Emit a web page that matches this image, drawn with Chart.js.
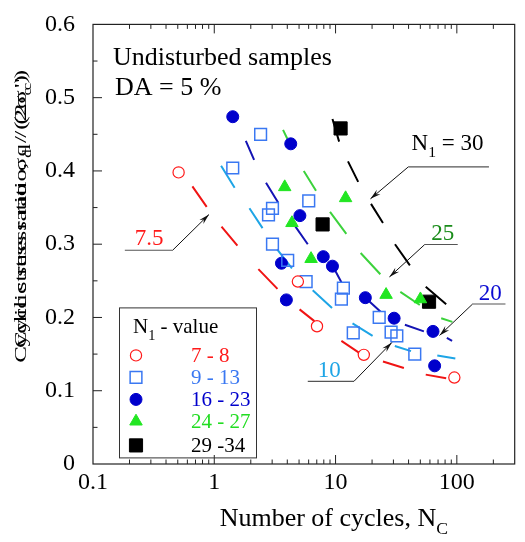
<!DOCTYPE html>
<html>
<head>
<meta charset="utf-8">
<script src="https://cdn.jsdelivr.net/npm/chart.js@4.4.0/dist/chart.umd.min.js"></script>
<style>
html,body{margin:0;padding:0;background:#fff;}
</style>
</head>
<body>
<canvas id="chart" width="525" height="542"></canvas>
<script>
// ===== Data: number of cycles to DA = 5 % vs cyclic stress ratio =====
const groupLabels = ["7 - 8","9 - 13","16 - 23","24 - 27","29 -34"];

const nc78   = [0.508, 4.89, 7.03, 17.1, 95.4];
const csr78  = [0.398, 0.249, 0.188, 0.149, 0.118];

const nc913  = [2.41, 1.42, 6.01, 3.02, 2.80, 3.02, 4.03, 5.72, 11.6, 11.17, 22.9, 13.99, 28.7, 32.0, 45.0];
const csr913 = [0.450, 0.404, 0.359, 0.349, 0.340, 0.300, 0.278, 0.249, 0.240, 0.225, 0.200, 0.179, 0.180, 0.175, 0.150];

const nc1623  = [1.42, 4.27, 5.08, 3.58, 7.92, 9.43, 3.93, 17.6, 30.4, 63.6, 65.6];
const csr1623 = [0.474, 0.437, 0.339, 0.274, 0.283, 0.270, 0.224, 0.227, 0.199, 0.181, 0.134];

const nc2427  = [3.81, 12.1, 4.37, 6.28, 26.1, 50.1];
const csr2427 = [0.378, 0.363, 0.329, 0.280, 0.231, 0.225];

const nc2934  = [11.0, 7.82, 59.0];
const csr2934 = [0.458, 0.327, 0.2215];

// dashed trend curves for each N1 (null = gap between dashes)
const c75X = [0.660, 0.866, null, 1.147, 1.551, null, 2.31, 3.32, null, 5.05, 6.69, null, 11.17, 15.57, null, 24.6, 36.6, null, 55.4, 81.7];
const c75Y = [0.379, 0.351, null, 0.324, 0.298, null, 0.266, 0.239, null, 0.211, 0.195, null, 0.168, 0.152, null, 0.140, 0.131, null, 0.122, 0.117];
const c10X = [1.138, 1.472, null, 1.95, 2.50, null, 3.30, 4.37, null, 6.48, 9.35, null, 13.8, 20.2, null, 30.8, 41.9, null, 69.0, 97.2];
const c10Y = [0.407, 0.377, null, 0.349, 0.322, null, 0.293, 0.267, null, 0.237, 0.213, null, 0.192, 0.175, null, 0.161, 0.154, null, 0.148, 0.144];
const c20X = [1.82, 2.13, null, 2.67, 3.36, null, 4.67, 5.90, null, 9.43, 11.17, null, 17.6, 23.4, null, 37.3, 53.5, null, 82.7, 91.4];
const c20Y = [0.441, 0.415, null, 0.384, 0.357, null, 0.324, 0.300, null, 0.271, 0.248, null, 0.227, 0.208, null, 0.190, 0.181, null, 0.172, 0.168];
const c25X = [3.69, 4.00, null, 5.47, 6.90, null, 9.00, 12.27, null, 16.1, 23.4, null, 34.2, 49.5, null, 74.3, 91.9];
const c25Y = [0.456, 0.444, null, 0.400, 0.373, null, 0.344, 0.314, null, 0.288, 0.259, null, 0.235, 0.217, null, 0.199, 0.194];
const c30X = [9.43, 10.70, null, 12.66, 15.37, null, 19.6, 24.6, null, 30.9, 41.0, null, 55.4, 81.7];
const c30Y = [0.471, 0.440, null, 0.413, 0.385, null, 0.355, 0.329, null, 0.300, 0.271, null, 0.242, 0.218];

// axis ticks
const xTicks = [0.1, 1, 10, 100];
const xTickLabels = ["0.1","1","10","100"];
const yTicks = [0, 0.1, 0.2, 0.3, 0.4, 0.5, 0.6];
const yTickLabels = ["0","0.1","0.2","0.3","0.4","0.5","0.6"];

// callouts: text, colour, text spot, shoulder (x from, x to, y), arrow tip
const callouts = [
  {parts:[["7.5",0]], color:"#ff1a1a", at:[0.221,0.2985], shoulder:[0.183,0.454,0.2918], from:0.454, tip:[0.904,0.3405]},
  {parts:[["10",0]], color:"#1ea5e6", at:[7.12,0.119], shoulder:[5.9,14.18,0.1128], from:14.18, tip:[29.1,0.1658]},
  {parts:[["20",0]], color:"#0a0ad2", at:[151.7,0.2233], shoulder:[134.8,251.8,0.2183], from:134.8, tip:[72.0,0.1755]},
  {parts:[["25",0]], color:"#1a8c1a", at:[61.6,0.3061], shoulder:[54.3,101.7,0.2995], from:54.3, tip:[27.8,0.2553]},
  {parts:[["N",0],["1",1],[" = 30",0]], color:"#000", at:[42.3,0.4287], shoulder:[39.8,184,0.4055], from:39.8, tip:[19.4,0.3619]}
];

// ===== Helpers =====
const FONT = '"Liberation Serif","Times New Roman",serif';
function pts(xs, ys){ return xs.map((x,i)=> x===null ? {x:null,y:null} : {x, y:ys[i]}); }
function partsWidth(ctx, parts, size){
  let w=0;
  parts.forEach(([t,sub])=>{ ctx.font=(sub?size*0.68:size)+"px "+FONT; w+=ctx.measureText(t).width; });
  return w;
}
function drawParts(ctx, parts, x, y, size){
  let cx=x;
  parts.forEach(([t,sub])=>{
    ctx.font=(sub?size*0.68:size)+"px "+FONT;
    ctx.fillText(t, cx, sub ? y+size*0.3 : y);
    cx+=ctx.measureText(t).width;
  });
  return cx;
}
function arrowHead(ctx, fx, fy, tx, ty){
  const a=Math.atan2(ty-fy, tx-fx), L=11, s=0.26;
  ctx.beginPath();
  ctx.moveTo(tx,ty);
  ctx.lineTo(tx-L*Math.cos(a-s), ty-L*Math.sin(a-s));
  ctx.lineTo(tx-7*Math.cos(a), ty-7*Math.sin(a));
  ctx.lineTo(tx-L*Math.cos(a+s), ty-L*Math.sin(a+s));
  ctx.closePath();
  ctx.fill();
}

// ===== Datasets =====
const pointSets = [
  {label:groupLabels[0], data:pts(nc78,csr78), pointStyle:"circle", pointRadius:5.6, borderColor:"#ff1a1a", backgroundColor:"#fff", borderWidth:1.2, txt:"#ff1a1a"},
  {label:groupLabels[1], data:pts(nc913,csr913), pointStyle:"rect", pointRadius:8.3, borderColor:"#3a78f2", backgroundColor:"rgba(255,255,255,0)", borderWidth:1.5, txt:"#3a78f2"},
  {label:groupLabels[2], data:pts(nc1623,csr1623), pointStyle:"circle", pointRadius:6, borderColor:"#0000cc", backgroundColor:"#0000cc", borderWidth:1, txt:"#0000cc"},
  {label:groupLabels[3], data:pts(nc2427,csr2427), pointStyle:"triangle", pointRadius:7.2, borderColor:"#22e622", backgroundColor:"#22e622", borderWidth:1, txt:"#22dd22"},
  {label:groupLabels[4], data:pts(nc2934,csr2934), pointStyle:"rect", pointRadius:9.3, borderColor:"#000", backgroundColor:"#000", borderWidth:1, txt:"#000"}
].map((d,i)=>Object.assign(d,{showLine:false, order:i}));

const lineSets = [
  [c75X,c75Y,"#f01414"],[c10X,c10Y,"#1ea5e6"],[c20X,c20Y,"#1414b4"],[c25X,c25Y,"#3cd23c"],[c30X,c30Y,"#000"]
].map(([xs,ys,col],i)=>({
  label:"curve"+i, data:pts(xs,ys), showLine:true, spanGaps:false, pointRadius:0,
  borderColor:col, borderWidth:2, order:10+i
}));

// ===== Frame, ticks, texts, legend =====
const decorations = {
  id:"decorations",
  afterDraw(chart){
    const ctx=chart.ctx, {left,right,top,bottom}=chart.chartArea;
    const xs=chart.scales.x, ys=chart.scales.y;
    ctx.save();
    // box
    ctx.strokeStyle="#222"; ctx.lineWidth=1.2;
    ctx.strokeRect(left, top, right-left, bottom-top);
    // x ticks, bottom and top
    ctx.lineWidth=1;
    for(let e=-1;e<=2;e++){
      for(let k=1;k<=9;k++){
        const v=k*Math.pow(10,e);
        if(k===1 && e===-1) continue;
        if(v>=300) continue;
        const px=xs.getPixelForValue(v), len=k===1?9:4.5;
        ctx.beginPath();
        ctx.moveTo(px,bottom); ctx.lineTo(px,bottom-len);
        ctx.moveTo(px,top); ctx.lineTo(px,top+len);
        ctx.stroke();
      }
    }
    // y ticks, left side only
    for(let i=1;i<12;i++){
      const v=i*0.05, py=ys.getPixelForValue(v), len=i%2===0?9:4.5;
      ctx.beginPath(); ctx.moveTo(left,py); ctx.lineTo(left+len,py); ctx.stroke();
    }

    ctx.fillStyle="#000"; ctx.textBaseline="alphabetic"; ctx.textAlign="center";
    // x tick labels
    ctx.font="24px "+FONT;
    xTicks.forEach((v,i)=>ctx.fillText(xTickLabels[i], xs.getPixelForValue(v), bottom+25));
    ctx.textAlign="left";

    // condition note
    ctx.font="26px "+FONT;
    ctx.fillText("Undisturbed samples", left+20, top+41);
    ctx.fillText("DA = 5 %", left+22, top+71);

    // callouts
    callouts.forEach(c=>{
      const sx1=xs.getPixelForValue(c.shoulder[0]), sx2=xs.getPixelForValue(c.shoulder[1]);
      const sy=ys.getPixelForValue(c.shoulder[2]);
      const fx=xs.getPixelForValue(c.from);
      const tx=xs.getPixelForValue(c.tip[0]), ty=ys.getPixelForValue(c.tip[1]);
      ctx.strokeStyle="#555"; ctx.lineWidth=1.1;
      ctx.beginPath(); ctx.moveTo(sx1,sy); ctx.lineTo(sx2,sy); ctx.stroke();
      ctx.strokeStyle="#111"; ctx.lineWidth=1;
      ctx.beginPath(); ctx.moveTo(fx,sy); ctx.lineTo(tx,ty); ctx.stroke();
      ctx.fillStyle="#111"; arrowHead(ctx,fx,sy,tx,ty);
      ctx.fillStyle=c.color;
      drawParts(ctx, c.parts, xs.getPixelForValue(c.at[0]), ys.getPixelForValue(c.at[1]), 23);
    });

    // legend box
    const lx=left+26, ly=top+283;
    ctx.strokeStyle="#333"; ctx.lineWidth=1;
    ctx.strokeRect(lx+0.5, ly+0.5, 137, 150);
    ctx.fillStyle="#000";
    drawParts(ctx, [["N",0],["1",1],[" - value",0]], lx+14, ly+26, 21);
    pointSets.forEach((d,i)=>{
      const cy=ly+48+i*22 + (i===4?2:0);
      ctx.fillStyle=d.backgroundColor; ctx.strokeStyle=d.borderColor; ctx.lineWidth=d.borderWidth;
      Chart.helpers.drawPoint(ctx,{pointStyle:d.pointStyle, radius:d.pointRadius, borderWidth:d.borderWidth, rotation:0}, lx+17, cy);
      ctx.fillStyle=d.txt; ctx.font="21px "+FONT;
      ctx.fillText(d.label, lx+72, cy+7);
    });

    // x axis title
    ctx.fillStyle="#000";
    const xt=[["Number of cycles, N",0],["C",1]];
    const xw=partsWidth(ctx,xt,26);
    drawParts(ctx, xt, (left+right)/2 - xw/2 + 30, 526, 26);

    // y axis title (two overlapping settings of the label)
    ctx.translate(21, 215);
    ctx.rotate(-Math.PI/2);
    ctx.scale(1, 0.68);
    const ya=[["Cyclic stress ratio  σ",0],["d",1],[" / (2σ",0],["c",1],["')",0]];
    const yb=[["Cyclic stress ratio, q / (2σ",0],["c",1],["')",0]];
    const wa=partsWidth(ctx,ya,25), wb=partsWidth(ctx,yb,25);
    drawParts(ctx, ya, -wa/2 - 4, 7, 25);
    drawParts(ctx, yb, -wb/2 + 6, 7, 25);
    ctx.restore();
  }
};

// ===== Chart =====
new Chart(document.getElementById("chart"), {
  type:"scatter",
  data:{datasets:[...pointSets, ...lineSets]},
  options:{
    responsive:false, animation:false,
    layout:{padding:{top:16,right:5,left:0,bottom:0}},
    plugins:{legend:{display:false}, tooltip:{enabled:false}},
    scales:{
      x:{
        type:"logarithmic", min:0.1, max:300,
        afterFit(s){ s.height=78; },
        afterBuildTicks(s){ s.ticks=xTicks.map(v=>({value:v})); },
        grid:{display:false}, border:{display:false},
        ticks:{display:false}
      },
      y:{
        min:0, max:0.6,
        afterFit(s){ s.width=93; },
        afterBuildTicks(s){ s.ticks=yTicks.map(v=>({value:v})); },
        grid:{display:false}, border:{display:false},
        ticks:{color:"#000", font:{family:FONT, size:24}, padding:10, autoSkip:false,
          callback:(v)=>yTickLabels[yTicks.findIndex(t=>Math.abs(t-v)<1e-9)]}
      }
    }
  },
  plugins:[decorations]
});
</script>
</body>
</html>
